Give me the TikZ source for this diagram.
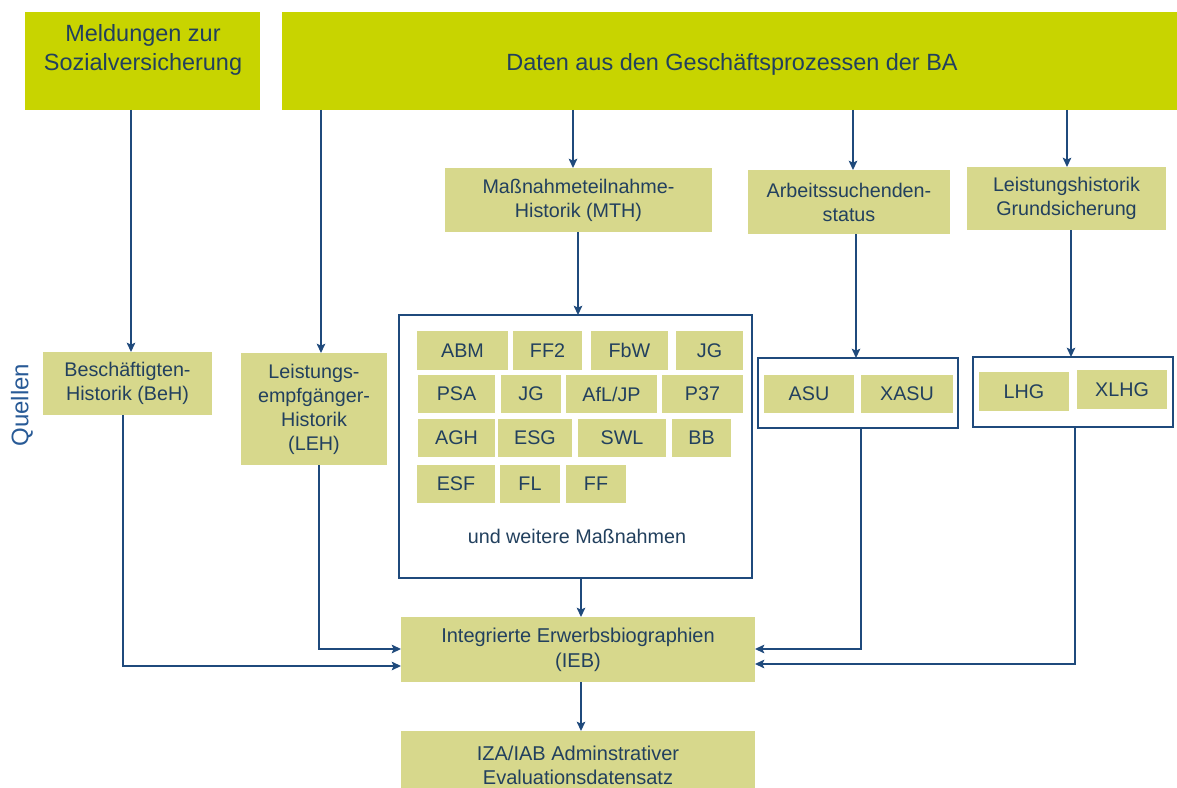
\documentclass[tikz,border=0pt]{standalone}
\usepackage{fontspec}
\setmainfont{Liberation Sans}
\usetikzlibrary{arrows.meta}
\definecolor{topfill}{RGB}{200,212,0}
\definecolor{boxfill}{RGB}{215,216,140}
\definecolor{txt}{RGB}{34,64,94}
\definecolor{lin}{RGB}{31,74,124}
\definecolor{quel}{RGB}{40,90,150}
\newcommand\bx[7][]{\node[#1, minimum width={(#5-#3)*0.75pt}, minimum height={(#6-#4)*0.75pt}] (#2) at ({(#3+#5)/2},{(#4+#6)/2}) {#7};}
\tikzset{
  topbox/.style={fill=topfill, draw=none, text=txt, font=\fontsize{17.6}{21.75}\selectfont, align=center, inner sep=0pt, outer sep=0pt},
  lbox/.style={fill=boxfill, draw=none, text=txt, font=\fontsize{14.8}{18}\selectfont, align=center, inner sep=0pt, outer sep=0pt},
  nbox/.style={lbox, font=\fontsize{15}{18.5}\selectfont},
  frame/.style={draw=lin, line width=1pt, fill=white, inner sep=0pt, outer sep=0pt},
  arr/.style={draw=lin, line width=1pt, -{Stealth[length=7pt,width=6.5pt,inset=1.5pt]}},
  plain/.style={text=txt, inner sep=0pt}
}
\begin{document}
\begin{tikzpicture}[x=0.75pt,y=-0.75pt]
\useasboundingbox (0,0) rectangle (1177,788);
\clip (0,0) rectangle (1177,788);
% top boxes
\bx[topbox]{meld}{25}{12}{260}{110}{}
\node[plain, font=\fontsize{17.6}{21.75}\selectfont, align=center] (meldtxt) at (143,50) {Meldungen zur\\Sozialversicherung};
\bx[topbox]{daten}{282}{12}{1177}{110}{}
\node[plain, font=\fontsize{17.6}{21.75}\selectfont] (datentxt) at (732,64) {Daten aus den Geschäftsprozessen der BA};
% second row
\bx[lbox]{mth}{445}{168}{712}{232}{Maßnahmeteilnahme-\\Historik (MTH)}
\bx[lbox]{as}{748}{170}{950}{234}{Arbeitssuchenden-\\status}
\bx[lbox]{lg}{967}{167}{1166}{230}{Leistungshistorik\\Grundsicherung}
% sources
\node[rotate=90, text=quel, font=\fontsize{18}{20}\selectfont, inner sep=0pt] (quellen) at (22,405) {Quellen};
\bx[lbox]{beh}{43}{352}{212}{415}{Beschäftigten-\\Historik (BeH)}
\bx[lbox]{leh}{241}{353}{387}{465}{Leistungs-\\empfgänger-\\Historik\\(LEH)}
% massnahmen frame
\bx[frame]{mass}{399}{315}{752}{578}{}
\bx[lbox]{abm}{417}{331}{508}{370}{ABM}
\bx[lbox]{ff2}{513}{331}{582}{370}{FF2}
\bx[lbox]{fbw}{591}{331}{668}{370}{FbW}
\bx[lbox]{jga}{676}{331}{743}{370}{JG}
\bx[lbox]{psa}{418}{375}{495}{413}{PSA}
\bx[lbox]{jgb}{501}{375}{561}{413}{JG}
\bx[lbox]{afl}{566}{375}{657}{413}{AfL/JP}
\bx[lbox]{p37}{662}{375}{743}{413}{P37}
\bx[lbox]{agh}{418}{419}{495}{457}{AGH}
\bx[lbox]{esg}{498}{419}{572}{457}{ESG}
\bx[lbox]{swl}{578}{419}{666}{457}{SWL}
\bx[lbox]{bb}{672}{419}{731}{457}{BB}
\bx[lbox]{esf}{417}{465}{495}{503}{ESF}
\bx[lbox]{fl}{500}{465}{560}{503}{FL}
\bx[lbox]{ff}{566}{465}{626}{503}{FF}
\node[plain, font=\fontsize{14.8}{18}\selectfont] (weitere) at (577,536) {und weitere Maßnahmen};
% ASU frame
\bx[frame]{asuf}{758}{358}{958}{428}{}
\bx[lbox]{asu}{764}{375}{854}{413}{ASU}
\bx[lbox]{xasu}{861}{375}{953}{413}{XASU}
% LHG frame
\bx[frame]{lhgf}{973}{357}{1173}{427}{}
\bx[lbox]{lhg}{979}{372}{1069}{411}{LHG}
\bx[lbox]{xlhg}{1077}{370}{1167}{409}{XLHG}
% result boxes
\bx[nbox]{ieb}{401}{617}{755}{682}{Integrierte Erwerbsbiographien\\(IEB)}
\bx[nbox]{iza}{401}{731}{755}{800}{IZA/IAB Adminstrativer\\Evaluationsdatensatz}
% connectors
\draw[arr] (meld.south -| 131,0) -- (beh.north -| 131,0);
\draw[arr] (daten.south -| 321,0) -- (leh.north -| 321,0);
\draw[arr] (daten.south -| 573,0) -- (mth.north -| 573,0);
\draw[arr] (mth.south -| 578,0) -- (mass.north -| 578,0);
\draw[arr] (daten.south -| 853,0) -- (as.north -| 853,0);
\draw[arr] (as.south -| 856,0) -- (asuf.north -| 856,0);
\draw[arr] (daten.south -| 1067,0) -- (lg.north -| 1067,0);
\draw[arr] (lg.south -| 1071,0) -- (lhgf.north -| 1071,0);
\draw[arr] (beh.south -| 123,0) |- (ieb.west |- 0,666);
\draw[arr] (leh.south -| 319,0) |- (ieb.west |- 0,649);
\draw[arr] (mass.south -| 581,0) -- (ieb.north -| 581,0);
\draw[arr] (asuf.south -| 861,0) |- (ieb.east |- 0,649);
\draw[arr] (lhgf.south -| 1075,0) |- (ieb.east |- 0,664);
\draw[arr] (ieb.south -| 581,0) -- (iza.north -| 581,0);
\end{tikzpicture}
\end{document}
